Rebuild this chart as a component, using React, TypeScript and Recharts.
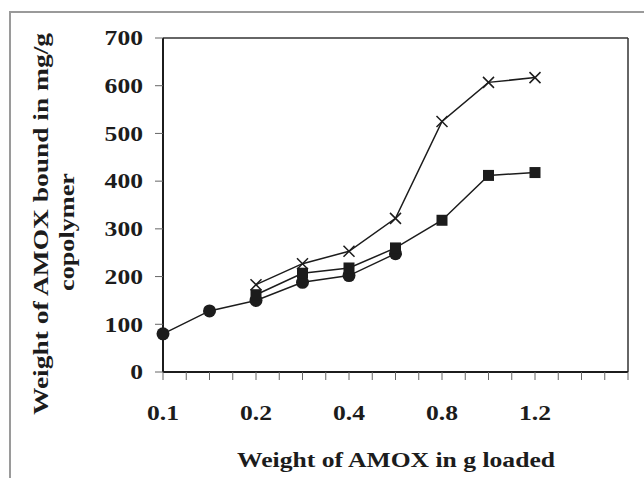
import React from 'react'
import { LineChart, Line, XAxis, YAxis, ReferenceLine, Label } from 'recharts'

// ── Data ─────────────────────────────────────────────────────────────────────

// loaded AMOX (g); only every other category gets a label on the axis
const categories = ['0.1', '0.15', '0.2', '0.3', '0.4', '0.6', '0.8', '1.0', '1.2']
const circleSeries = [80, 128, 150, 188, 202, 248, null, null, null]
const squareSeries = [null, null, 162, 207, 218, 260, 318, 412, 418]
const crossSeries = [null, null, 183, 227, 253, 322, 525, 607, 617]
const yTicks = [0, 100, 200, 300, 400, 500, 600, 700]
const slotCount = 10 // axis runs two empty slots past the last category

const data = categories.map((c, i) => ({
  idx: i,
  label: c,
  circle: circleSeries[i],
  square: squareSeries[i],
  cross: crossSeries[i],
}))

const xTicks = Array.from({ length: slotCount * 2 + 1 }, (_, k) => k / 2)

// ── Styles ───────────────────────────────────────────────────────────────────

const INK = '#1c1c1c'
const FONT = '"Liberation Serif", "Times New Roman", serif'

// ── Markers ──────────────────────────────────────────────────────────────────

function CircleDot(p: any) {
  if (p.cy == null || p.value == null) return <g key={p.index} />
  return <circle key={p.index} cx={p.cx} cy={p.cy} r={6.5} fill={INK} />
}

function SquareDot(p: any) {
  if (p.cy == null || p.value == null) return <g key={p.index} />
  return <rect key={p.index} x={p.cx - 5.5} y={p.cy - 5.5} width={11} height={11} fill={INK} />
}

function CrossDot(p: any) {
  if (p.cy == null || p.value == null) return <g key={p.index} />
  const s = 5.5
  return (
    <path
      key={p.index}
      d={`M${p.cx - s},${p.cy - s}L${p.cx + s},${p.cy + s}M${p.cx - s},${p.cy + s}L${p.cx + s},${p.cy - s}`}
      stroke={INK}
      strokeWidth={1.5}
      fill="none"
    />
  )
}

// ── Ticks & titles ───────────────────────────────────────────────────────────

function YTick({ x, y, payload }: any) {
  return (
    <text
      x={0}
      y={0}
      transform={`translate(${x},${y}) scale(1.22,1)`}
      textAnchor="end"
      dy="0.35em"
      fontFamily={FONT}
      fontWeight="bold"
      fontSize={21}
      fill={INK}
    >
      {payload.value}
    </text>
  )
}

function XTick({ x, y, payload }: any) {
  const v = payload.value
  const text = Number.isInteger(v) && v % 2 === 0 ? categories[v] ?? '' : ''
  if (!text) return <g />
  return (
    <text
      x={0}
      y={0}
      transform={`translate(${x},${y}) scale(1.22,1)`}
      textAnchor="middle"
      fontFamily={FONT}
      fontWeight="bold"
      fontSize={21}
      fill={INK}
    >
      {text}
    </text>
  )
}

function YTitle() {
  return (
    <g fontFamily={FONT} fontWeight="bold" fontSize={21} fill={INK}>
      <text x={48} y={224} transform="rotate(-90 48 224)" textAnchor="middle" textLength={382} lengthAdjust="spacingAndGlyphs">
        Weight of AMOX bound in mg/g
      </text>
      <text x={74} y={232} transform="rotate(-90 74 232)" textAnchor="middle" textLength={118} lengthAdjust="spacingAndGlyphs">
        copolymer
      </text>
    </g>
  )
}

function XTitle() {
  return (
    <text
      x={396}
      y={467}
      textAnchor="middle"
      fontFamily={FONT}
      fontWeight="bold"
      fontSize={21}
      fill={INK}
      textLength={318}
      lengthAdjust="spacingAndGlyphs"
    >
      Weight of AMOX in g loaded
    </text>
  )
}

// ── App ──────────────────────────────────────────────────────────────────────

export default function App() {
  return (
    <div style={{ position: 'absolute', left: 0, top: 0, width: 644, height: 478, background: '#fff' }}>
      <div
        style={{
          position: 'absolute', left: 9, top: 11, width: 635, height: 467,
          borderTop: '2px solid #9a9a9a', borderLeft: '2px solid #9a9a9a',
        }}
      />
      <LineChart
        width={644}
        height={478}
        data={data}
        margin={{ top: 38, right: 16, bottom: 66, left: 103 }}
        style={{ position: 'absolute', left: 0, top: 0 }}
      >
        <XAxis
          type="number"
          dataKey="idx"
          domain={[0, slotCount]}
          ticks={xTicks}
          interval={0}
          height={40}
          tickSize={8}
          tickMargin={40}
          tick={<XTick />}
          axisLine={{ stroke: INK, strokeWidth: 2 }}
          tickLine={{ stroke: '#666', strokeWidth: 1 }}
        >
          <Label content={<XTitle />} />
        </XAxis>
        <YAxis
          type="number"
          domain={[0, 700]}
          ticks={yTicks}
          interval={0}
          width={60}
          tickSize={8}
          tickMargin={12}
          tick={<YTick />}
          axisLine={{ stroke: INK, strokeWidth: 2 }}
          tickLine={{ stroke: '#666', strokeWidth: 1 }}
        >
          <Label content={<YTitle />} />
        </YAxis>
        <ReferenceLine y={700} stroke="#333" strokeWidth={1.5} />
        <ReferenceLine x={slotCount} stroke="#333" strokeWidth={1.5} />
        <Line type="linear" dataKey="circle" stroke={INK} strokeWidth={1.5} dot={CircleDot} activeDot={false} isAnimationActive={false} />
        <Line type="linear" dataKey="square" stroke={INK} strokeWidth={1.5} dot={SquareDot} activeDot={false} isAnimationActive={false} />
        <Line type="linear" dataKey="cross" stroke={INK} strokeWidth={1.5} dot={CrossDot} activeDot={false} isAnimationActive={false} />
      </LineChart>
    </div>
  )
}
